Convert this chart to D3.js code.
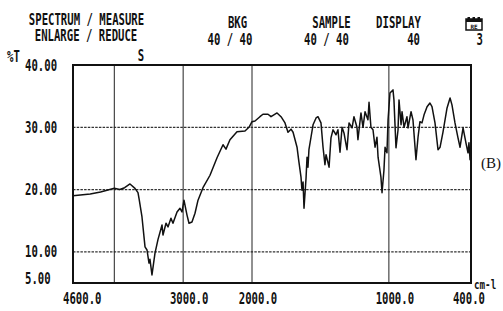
<!DOCTYPE html>
<html>
<head>
<meta charset="utf-8">
<script src="https://cdn.jsdelivr.net/npm/d3@7"></script>
<style>
  html, body { margin: 0; padding: 0; background: #fff; }
  svg { display: block; }
</style>
</head>
<body>
<svg id="chart" width="503" height="311"></svg>
<script>
// ---- data ----
const wavenumbers = [4600,4350,4200,4000,3920,3850,3772,3700,3656,3640,3598,3554,3525,3496,3482,3453,3409,3365,3307,3293,3249,3220,3177,3148,3089,3046,3017,2988,2944,2915,2872,2828,2784,2712,2610,2508,2421,2378,2320,2218,2102,2044,2000,1978,1942,1920,1883,1861,1817,1788,1759,1737,1715,1700,1671,1657,1642,1635,1627,1620,1605,1598,1591,1584,1569,1554,1532,1518,1496,1481,1467,1459,1437,1423,1408,1386,1372,1357,1342,1328,1306,1291,1269,1255,1233,1226,1204,1189,1174,1153,1145,1131,1116,1101,1087,1079,1058,1050,1036,1028,1014,1006,992,970,963,948,933,926,911,904,889,868,860,838,824,802,787,773,758,743,721,700,685,663,641,626,605,575,553,539,517,495,480,458,437,422,415,407,400];
const transmittance = [19.0,19.3,19.6,20.2,20.0,20.3,20.9,20.2,19.5,18.5,15.6,10.8,10.3,8.2,8.8,6.3,9.8,12.0,14.3,12.7,14.6,14.0,15.4,14.6,16.4,17.0,16.4,18.3,15.9,14.6,14.8,16.2,18.3,20.3,22.3,25.1,27.2,26.5,28.0,29.3,29.4,30.0,30.9,31.0,31.7,32.1,32.1,31.7,32.3,31.7,30.7,29.2,29.7,29.2,26.8,24.4,22.0,19.9,21.2,17.0,21.9,25.2,23.6,26.4,28.4,30.4,31.5,31.7,30.7,26.8,24.0,25.6,23.6,28.3,29.6,28.8,29.6,26.0,30.0,29.1,26.4,30.7,29.9,31.7,30.0,28.0,32.3,30.0,32.5,31.2,34.0,30.0,29.6,26.8,28.4,25.2,22.0,19.5,23.1,26.8,25.9,31.2,35.5,36.0,34.4,26.7,29.6,34.4,30.4,32.5,30.0,31.7,29.9,32.5,31.2,24.8,28.4,30.9,30.7,32.0,33.3,33.9,33.3,30.7,26.4,26.8,29.2,33.1,34.7,33.6,30.7,28.3,26.8,29.9,27.5,25.9,27.5,24.8,25.2];

const xGrid = [4000, 3000, 2000, 1000];
const xTickLabels = [4600, 3000, 2000, 1000, 400];
const yGrid = [30, 20, 10];
const yTickLabels = [40, 30, 20, 10, 5];

const headerLine1 = ["SPECTRUM / MEASURE", "BKG", "SAMPLE", "DISPLAY"];
const headerLine2 = ["ENLARGE / REDUCE", "40 / 40", "40 / 40", "40", "3"];

// ---- layout ----
const svg = d3.select("#chart");
const L = 73, R = 471, T = 65, B = 283;

const x = d3.scaleLinear().domain([4600, 2000, 400]).range([L, 252, R]);
const y = d3.scaleLinear().domain([5, 40]).range([B, T]);

const FONT = "'DejaVu Sans Mono', 'Liberation Mono', monospace";
const SX = 0.71;
function txt(px, py, s, anchor, size) {
  return svg.append("text")
    .attr("transform", `translate(${px},${py}) scale(${SX},1)`)
    .attr("text-anchor", anchor || "start")
    .attr("font-family", FONT)
    .attr("font-size", size || 15)
    .attr("font-weight", "bold")
    .attr("fill", "#111")
    .text(s);
}

// horizontal dashed gridlines
svg.append("g").selectAll("line").data(yGrid).join("line")
  .attr("x1", L).attr("x2", R)
  .attr("y1", d => y(d)).attr("y2", d => y(d))
  .attr("stroke", "#333").attr("stroke-width", 1.3)
  .attr("stroke-dasharray", "2.5,1.2");

// vertical solid gridlines
svg.append("g").selectAll("line").data(xGrid).join("line")
  .attr("x1", d => x(d)).attr("x2", d => x(d))
  .attr("y1", T).attr("y2", B)
  .attr("stroke", "#222").attr("stroke-width", 1);

// frame
svg.append("rect")
  .attr("x", L).attr("y", T).attr("width", R - L).attr("height", B - T)
  .attr("fill", "none").attr("stroke", "#111").attr("stroke-width", 2);

// spectrum
const pts = wavenumbers.map((w, i) => [w, transmittance[i]]);
svg.append("path")
  .datum(pts)
  .attr("fill", "none")
  .attr("stroke", "#111")
  .attr("stroke-width", 1.5)
  .attr("stroke-linejoin", "round")
  .attr("d", d3.line().x(d => x(d[0])).y(d => y(d[1])));

// y labels
yTickLabels.forEach(v => {
  txt(25, Math.min(y(v) + 5.5, 284), v.toFixed(2), "start");
});
txt(7, 62, "%T", "start");
txt(141, 61, "S", "middle");

// x labels
xTickLabels.forEach((v, i) => {
  const last = i === xTickLabels.length - 1;
  const first = i === 0;
  const px = first ? x(v) - 10 : (last ? x(v) + 14 : x(v) + 6);
  txt(px, 304, v.toFixed(1), first ? "start" : (last ? "end" : "middle"));
});
txt(474, 289, "cm-l", "start", 13);

// header
txt(86.5, 25, headerLine1[0], "middle");
txt(86, 41, headerLine2[0], "middle");
txt(237.5, 28, headerLine1[1], "middle");
txt(230, 45, headerLine2[1], "middle");
txt(331.5, 28, headerLine1[2], "middle");
txt(326.5, 45, headerLine2[2], "middle");
txt(398.5, 28, headerLine1[3], "middle");
txt(420, 45, headerLine2[3], "end");
txt(483, 45, headerLine2[4], "end");

// small printer icon
const ic = svg.append("g").attr("transform", "translate(466,17)");
ic.append("rect").attr("x", 0).attr("y", 2).attr("width", 16).attr("height", 11)
  .attr("fill", "none").attr("stroke", "#111").attr("stroke-width", 1.5);
ic.append("rect").attr("x", 0).attr("y", 2).attr("width", 16).attr("height", 3).attr("fill", "#111");
[1.5, 6.5, 11.5].forEach(dx => ic.append("rect").attr("x", dx).attr("y", 0).attr("width", 2.5).attr("height", 3).attr("fill", "#111"));
ic.append("text").attr("x", 8).attr("y", 11.5).attr("text-anchor", "middle")
  .attr("font-family", FONT).attr("font-size", 6).attr("font-weight", "bold").attr("fill", "#111").text("RE");

// side label
svg.append("text").attr("x", 481).attr("y", 168)
  .attr("font-family", "'Liberation Serif', 'DejaVu Serif', serif")
  .attr("font-size", 15).attr("fill", "#111").text("(B)");
</script>
</body>
</html>
